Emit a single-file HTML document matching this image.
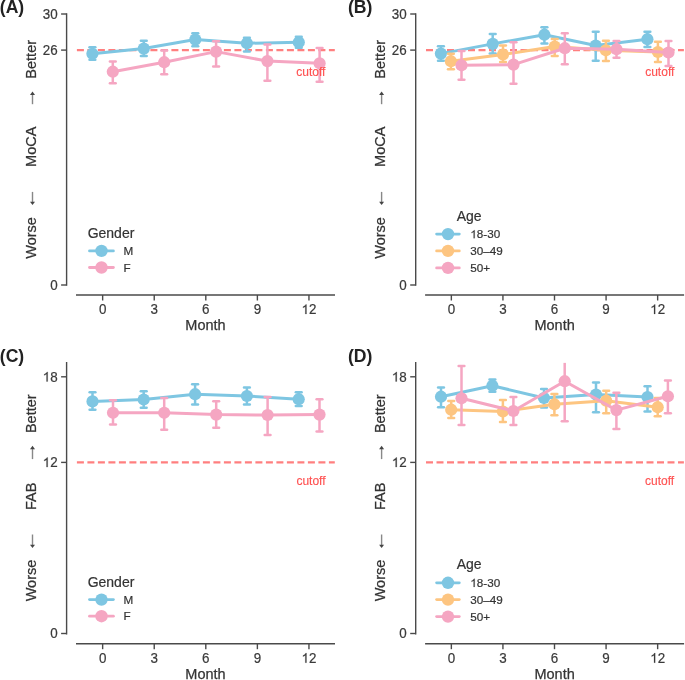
<!DOCTYPE html>
<html><head><meta charset="utf-8"><title>chart</title><style>
html,body{margin:0;padding:0;background:#fff;}
svg{display:block;will-change:transform;}
text{font-family:"Liberation Sans",sans-serif;}
.tk{font-size:13.4px;fill:#3a3a3a;stroke:#3a3a3a;stroke-width:0.2px;}
.ti{font-size:14.5px;fill:#333;stroke:#333;stroke-width:0.25px;}
.pl{font-size:17.6px;font-weight:bold;fill:#222;}
.cut{font-size:12px;fill:#FF5252;stroke:#FF5252;stroke-width:0.15px;}
.lt{font-size:14px;fill:#333;stroke:#333;stroke-width:0.2px;}
.ll{font-size:11.7px;fill:#333;stroke:#333;stroke-width:0.2px;}
</style></head><body>
<svg width="685" height="680" viewBox="0 0 685 680">
<rect width="685" height="680" fill="#fff"/>
<defs>
<clipPath id="cpa"><rect x="66" y="14" width="272" height="271"/></clipPath>
<clipPath id="cpb"><rect x="415.1" y="14" width="272" height="271"/></clipPath>
<clipPath id="cpc"><rect x="66" y="362.7" width="272" height="271"/></clipPath>
<clipPath id="cpd"><rect x="415.1" y="362.7" width="272" height="271"/></clipPath>
</defs>
<line x1="66.6" y1="14" x2="66.6" y2="285" stroke="#4a4a4a" stroke-width="1.4" stroke-linecap="square"/>
<line x1="61.1" y1="14" x2="66.6" y2="14" stroke="#4a4a4a" stroke-width="1.4"/>
<text transform="translate(57.6,18.7) scale(1,1.04)" class="tk" text-anchor="end">30</text>
<line x1="61.1" y1="50.1" x2="66.6" y2="50.1" stroke="#4a4a4a" stroke-width="1.4"/>
<text transform="translate(57.6,54.8) scale(1,1.04)" class="tk" text-anchor="end">26</text>
<line x1="61.1" y1="285" x2="66.6" y2="285" stroke="#4a4a4a" stroke-width="1.4"/>
<text transform="translate(57.6,289.7) scale(1,1.04)" class="tk" text-anchor="end">0</text>
<line x1="76" y1="295" x2="335" y2="295" stroke="#4a4a4a" stroke-width="1.4"/>
<line x1="102.65" y1="295" x2="102.65" y2="300.5" stroke="#4a4a4a" stroke-width="1.4"/>
<text transform="translate(102.65,314) scale(1,1.04)" class="tk" text-anchor="middle">0</text>
<line x1="154.23" y1="295" x2="154.23" y2="300.5" stroke="#4a4a4a" stroke-width="1.4"/>
<text transform="translate(154.23,314) scale(1,1.04)" class="tk" text-anchor="middle">3</text>
<line x1="205.8" y1="295" x2="205.8" y2="300.5" stroke="#4a4a4a" stroke-width="1.4"/>
<text transform="translate(205.8,314) scale(1,1.04)" class="tk" text-anchor="middle">6</text>
<line x1="257.38" y1="295" x2="257.38" y2="300.5" stroke="#4a4a4a" stroke-width="1.4"/>
<text transform="translate(257.38,314) scale(1,1.04)" class="tk" text-anchor="middle">9</text>
<line x1="308.95" y1="295" x2="308.95" y2="300.5" stroke="#4a4a4a" stroke-width="1.4"/>
<path transform="translate(301.5,314) scale(0.00654,-0.00651)" d="M763 0H583V1147Q518 1085 412.5 1023Q307 961 223 930V1104Q374 1175 487 1276Q600 1377 647 1472H763V0Z" fill="#3a3a3a" stroke="#3a3a3a" stroke-width="30.6"/>
<text transform="translate(308.95,314) scale(1,1.04)" class="tk">2</text>
<text transform="translate(205.5,330.2)" class="ti" text-anchor="middle">Month</text>
<text transform="translate(-0.2,13.2) scale(1,1.04)" class="pl">(A)</text>
<text transform="translate(36,59.3) rotate(-90)" class="ti" text-anchor="middle">Better</text>
<text transform="translate(36,146.8) rotate(-90)" class="ti" text-anchor="middle">MoCA</text>
<text transform="translate(36,237.9) rotate(-90)" class="ti" text-anchor="middle">Worse</text>
<line x1="32.5" y1="94.5" x2="32.5" y2="104.2" stroke="#888" stroke-width="1.4"/>
<path d="M32.5 91.5 L30 94.9 L35 94.9 Z" fill="#444"/>
<line x1="32.5" y1="191.9" x2="32.5" y2="202.1" stroke="#888" stroke-width="1.4"/>
<path d="M32.5 205.1 L30 201.7 L35 201.7 Z" fill="#444"/>
<line x1="76.9" y1="50.1" x2="334.8" y2="50.1" stroke="#FF7F7F" stroke-width="2.1" stroke-dasharray="7 3.5"/>
<g clip-path="url(#cpa)">
<path d="M92.4 53.8 L143.8 48.6 L195.3 39.6 L246.9 43.3 L298.8 42.3" fill="none" stroke="#7EC6E2" stroke-width="3" stroke-linejoin="round"/>
<line x1="92.4" y1="47.25" x2="92.4" y2="59.65" stroke="#7EC6E2" stroke-width="2.5"/>
<line x1="89.5" y1="47.25" x2="95.3" y2="47.25" stroke="#7EC6E2" stroke-width="2.5" stroke-linecap="round"/>
<line x1="89.5" y1="59.65" x2="95.3" y2="59.65" stroke="#7EC6E2" stroke-width="2.5" stroke-linecap="round"/>
<line x1="143.8" y1="40.85" x2="143.8" y2="56.05" stroke="#7EC6E2" stroke-width="2.5"/>
<line x1="140.9" y1="40.85" x2="146.7" y2="40.85" stroke="#7EC6E2" stroke-width="2.5" stroke-linecap="round"/>
<line x1="140.9" y1="56.05" x2="146.7" y2="56.05" stroke="#7EC6E2" stroke-width="2.5" stroke-linecap="round"/>
<line x1="195.3" y1="33.25" x2="195.3" y2="46.35" stroke="#7EC6E2" stroke-width="2.5"/>
<line x1="192.4" y1="33.25" x2="198.2" y2="33.25" stroke="#7EC6E2" stroke-width="2.5" stroke-linecap="round"/>
<line x1="192.4" y1="46.35" x2="198.2" y2="46.35" stroke="#7EC6E2" stroke-width="2.5" stroke-linecap="round"/>
<line x1="246.9" y1="37.75" x2="246.9" y2="51.45" stroke="#7EC6E2" stroke-width="2.5"/>
<line x1="244" y1="37.75" x2="249.8" y2="37.75" stroke="#7EC6E2" stroke-width="2.5" stroke-linecap="round"/>
<line x1="244" y1="51.45" x2="249.8" y2="51.45" stroke="#7EC6E2" stroke-width="2.5" stroke-linecap="round"/>
<line x1="298.8" y1="36.65" x2="298.8" y2="47.85" stroke="#7EC6E2" stroke-width="2.5"/>
<line x1="295.9" y1="36.65" x2="301.7" y2="36.65" stroke="#7EC6E2" stroke-width="2.5" stroke-linecap="round"/>
<line x1="295.9" y1="47.85" x2="301.7" y2="47.85" stroke="#7EC6E2" stroke-width="2.5" stroke-linecap="round"/>
<circle cx="92.4" cy="53.8" r="6.1" fill="#7EC6E2"/>
<circle cx="143.8" cy="48.6" r="6.1" fill="#7EC6E2"/>
<circle cx="195.3" cy="39.6" r="6.1" fill="#7EC6E2"/>
<circle cx="246.9" cy="43.3" r="6.1" fill="#7EC6E2"/>
<circle cx="298.8" cy="42.3" r="6.1" fill="#7EC6E2"/>
<path d="M112.8 71.7 L164.2 62.2 L216.1 51.6 L267.4 61.1 L319.6 63.3" fill="none" stroke="#F5A6C2" stroke-width="3" stroke-linejoin="round"/>
<line x1="112.8" y1="61.55" x2="112.8" y2="83.35" stroke="#F5A6C2" stroke-width="2.5"/>
<line x1="109.9" y1="61.55" x2="115.7" y2="61.55" stroke="#F5A6C2" stroke-width="2.5" stroke-linecap="round"/>
<line x1="109.9" y1="83.35" x2="115.7" y2="83.35" stroke="#F5A6C2" stroke-width="2.5" stroke-linecap="round"/>
<line x1="164.2" y1="50.55" x2="164.2" y2="74.25" stroke="#F5A6C2" stroke-width="2.5"/>
<line x1="161.3" y1="50.55" x2="167.1" y2="50.55" stroke="#F5A6C2" stroke-width="2.5" stroke-linecap="round"/>
<line x1="161.3" y1="74.25" x2="167.1" y2="74.25" stroke="#F5A6C2" stroke-width="2.5" stroke-linecap="round"/>
<line x1="216.1" y1="41.35" x2="216.1" y2="66.45" stroke="#F5A6C2" stroke-width="2.5"/>
<line x1="213.2" y1="41.35" x2="219" y2="41.35" stroke="#F5A6C2" stroke-width="2.5" stroke-linecap="round"/>
<line x1="213.2" y1="66.45" x2="219" y2="66.45" stroke="#F5A6C2" stroke-width="2.5" stroke-linecap="round"/>
<line x1="267.4" y1="44.45" x2="267.4" y2="80.65" stroke="#F5A6C2" stroke-width="2.5"/>
<line x1="264.5" y1="44.45" x2="270.3" y2="44.45" stroke="#F5A6C2" stroke-width="2.5" stroke-linecap="round"/>
<line x1="264.5" y1="80.65" x2="270.3" y2="80.65" stroke="#F5A6C2" stroke-width="2.5" stroke-linecap="round"/>
<line x1="319.6" y1="48.05" x2="319.6" y2="81.65" stroke="#F5A6C2" stroke-width="2.5"/>
<line x1="316.7" y1="48.05" x2="322.5" y2="48.05" stroke="#F5A6C2" stroke-width="2.5" stroke-linecap="round"/>
<line x1="316.7" y1="81.65" x2="322.5" y2="81.65" stroke="#F5A6C2" stroke-width="2.5" stroke-linecap="round"/>
<circle cx="112.8" cy="71.7" r="6.1" fill="#F5A6C2"/>
<circle cx="164.2" cy="62.2" r="6.1" fill="#F5A6C2"/>
<circle cx="216.1" cy="51.6" r="6.1" fill="#F5A6C2"/>
<circle cx="267.4" cy="61.1" r="6.1" fill="#F5A6C2"/>
<circle cx="319.6" cy="63.3" r="6.1" fill="#F5A6C2"/>
</g>
<text transform="translate(296.3,76.2)" class="cut">cutoff</text>
<text transform="translate(111,237.9)" class="lt" text-anchor="middle">Gender</text>
<line x1="89.5" y1="250.9" x2="113.4" y2="250.9" stroke="#7EC6E2" stroke-width="2.8" stroke-linecap="round"/>
<circle cx="101.5" cy="250.9" r="6.2" fill="#7EC6E2"/>
<text transform="translate(123.4,255)" class="ll">M</text>
<line x1="89.5" y1="267.5" x2="113.4" y2="267.5" stroke="#F5A6C2" stroke-width="2.8" stroke-linecap="round"/>
<circle cx="101.5" cy="267.5" r="6.2" fill="#F5A6C2"/>
<text transform="translate(123.4,271.6)" class="ll">F</text>
<line x1="415.7" y1="14" x2="415.7" y2="285" stroke="#4a4a4a" stroke-width="1.4" stroke-linecap="square"/>
<line x1="410.2" y1="14" x2="415.7" y2="14" stroke="#4a4a4a" stroke-width="1.4"/>
<text transform="translate(406.7,18.7) scale(1,1.04)" class="tk" text-anchor="end">30</text>
<line x1="410.2" y1="50.1" x2="415.7" y2="50.1" stroke="#4a4a4a" stroke-width="1.4"/>
<text transform="translate(406.7,54.8) scale(1,1.04)" class="tk" text-anchor="end">26</text>
<line x1="410.2" y1="285" x2="415.7" y2="285" stroke="#4a4a4a" stroke-width="1.4"/>
<text transform="translate(406.7,289.7) scale(1,1.04)" class="tk" text-anchor="end">0</text>
<line x1="425.1" y1="295" x2="684.1" y2="295" stroke="#4a4a4a" stroke-width="1.4"/>
<line x1="451.35" y1="295" x2="451.35" y2="300.5" stroke="#4a4a4a" stroke-width="1.4"/>
<text transform="translate(451.35,314) scale(1,1.04)" class="tk" text-anchor="middle">0</text>
<line x1="502.93" y1="295" x2="502.93" y2="300.5" stroke="#4a4a4a" stroke-width="1.4"/>
<text transform="translate(502.93,314) scale(1,1.04)" class="tk" text-anchor="middle">3</text>
<line x1="554.5" y1="295" x2="554.5" y2="300.5" stroke="#4a4a4a" stroke-width="1.4"/>
<text transform="translate(554.5,314) scale(1,1.04)" class="tk" text-anchor="middle">6</text>
<line x1="606.08" y1="295" x2="606.08" y2="300.5" stroke="#4a4a4a" stroke-width="1.4"/>
<text transform="translate(606.08,314) scale(1,1.04)" class="tk" text-anchor="middle">9</text>
<line x1="657.65" y1="295" x2="657.65" y2="300.5" stroke="#4a4a4a" stroke-width="1.4"/>
<path transform="translate(650.2,314) scale(0.00654,-0.00651)" d="M763 0H583V1147Q518 1085 412.5 1023Q307 961 223 930V1104Q374 1175 487 1276Q600 1377 647 1472H763V0Z" fill="#3a3a3a" stroke="#3a3a3a" stroke-width="30.6"/>
<text transform="translate(657.65,314) scale(1,1.04)" class="tk">2</text>
<text transform="translate(554.6,330.2)" class="ti" text-anchor="middle">Month</text>
<text transform="translate(348,13.2) scale(1,1.04)" class="pl">(B)</text>
<text transform="translate(385.1,59.3) rotate(-90)" class="ti" text-anchor="middle">Better</text>
<text transform="translate(385.1,146.8) rotate(-90)" class="ti" text-anchor="middle">MoCA</text>
<text transform="translate(385.1,237.9) rotate(-90)" class="ti" text-anchor="middle">Worse</text>
<line x1="381.6" y1="94.5" x2="381.6" y2="104.2" stroke="#888" stroke-width="1.4"/>
<path d="M381.6 91.5 L379.1 94.9 L384.1 94.9 Z" fill="#444"/>
<line x1="381.6" y1="191.9" x2="381.6" y2="202.1" stroke="#888" stroke-width="1.4"/>
<path d="M381.6 205.1 L379.1 201.7 L384.1 201.7 Z" fill="#444"/>
<line x1="426" y1="50.1" x2="683.9" y2="50.1" stroke="#FF7F7F" stroke-width="2.1" stroke-dasharray="7 3.5"/>
<g clip-path="url(#cpb)">
<path d="M440.9 53.6 L492.7 43.9 L544.4 34.7 L595.7 45.5 L647.4 39.2" fill="none" stroke="#7EC6E2" stroke-width="3" stroke-linejoin="round"/>
<line x1="440.9" y1="46.35" x2="440.9" y2="60.75" stroke="#7EC6E2" stroke-width="2.5"/>
<line x1="438" y1="46.35" x2="443.8" y2="46.35" stroke="#7EC6E2" stroke-width="2.5" stroke-linecap="round"/>
<line x1="438" y1="60.75" x2="443.8" y2="60.75" stroke="#7EC6E2" stroke-width="2.5" stroke-linecap="round"/>
<line x1="492.7" y1="33.95" x2="492.7" y2="53.55" stroke="#7EC6E2" stroke-width="2.5"/>
<line x1="489.8" y1="33.95" x2="495.6" y2="33.95" stroke="#7EC6E2" stroke-width="2.5" stroke-linecap="round"/>
<line x1="489.8" y1="53.55" x2="495.6" y2="53.55" stroke="#7EC6E2" stroke-width="2.5" stroke-linecap="round"/>
<line x1="544.4" y1="27.15" x2="544.4" y2="43.45" stroke="#7EC6E2" stroke-width="2.5"/>
<line x1="541.5" y1="27.15" x2="547.3" y2="27.15" stroke="#7EC6E2" stroke-width="2.5" stroke-linecap="round"/>
<line x1="541.5" y1="43.45" x2="547.3" y2="43.45" stroke="#7EC6E2" stroke-width="2.5" stroke-linecap="round"/>
<line x1="595.7" y1="31.65" x2="595.7" y2="60.65" stroke="#7EC6E2" stroke-width="2.5"/>
<line x1="592.8" y1="31.65" x2="598.6" y2="31.65" stroke="#7EC6E2" stroke-width="2.5" stroke-linecap="round"/>
<line x1="592.8" y1="60.65" x2="598.6" y2="60.65" stroke="#7EC6E2" stroke-width="2.5" stroke-linecap="round"/>
<line x1="647.4" y1="31.65" x2="647.4" y2="46.95" stroke="#7EC6E2" stroke-width="2.5"/>
<line x1="644.5" y1="31.65" x2="650.3" y2="31.65" stroke="#7EC6E2" stroke-width="2.5" stroke-linecap="round"/>
<line x1="644.5" y1="46.95" x2="650.3" y2="46.95" stroke="#7EC6E2" stroke-width="2.5" stroke-linecap="round"/>
<circle cx="440.9" cy="53.6" r="6.1" fill="#7EC6E2"/>
<circle cx="492.7" cy="43.9" r="6.1" fill="#7EC6E2"/>
<circle cx="544.4" cy="34.7" r="6.1" fill="#7EC6E2"/>
<circle cx="595.7" cy="45.5" r="6.1" fill="#7EC6E2"/>
<circle cx="647.4" cy="39.2" r="6.1" fill="#7EC6E2"/>
<path d="M450.9 61.2 L503 54.5 L554.7 46.5 L605.9 50.3 L657.9 52" fill="none" stroke="#FDC581" stroke-width="3" stroke-linejoin="round"/>
<line x1="450.9" y1="53.75" x2="450.9" y2="69.35" stroke="#FDC581" stroke-width="2.5"/>
<line x1="448" y1="53.75" x2="453.8" y2="53.75" stroke="#FDC581" stroke-width="2.5" stroke-linecap="round"/>
<line x1="448" y1="69.35" x2="453.8" y2="69.35" stroke="#FDC581" stroke-width="2.5" stroke-linecap="round"/>
<line x1="503" y1="45.55" x2="503" y2="61.95" stroke="#FDC581" stroke-width="2.5"/>
<line x1="500.1" y1="45.55" x2="505.9" y2="45.55" stroke="#FDC581" stroke-width="2.5" stroke-linecap="round"/>
<line x1="500.1" y1="61.95" x2="505.9" y2="61.95" stroke="#FDC581" stroke-width="2.5" stroke-linecap="round"/>
<line x1="554.7" y1="38.95" x2="554.7" y2="56.05" stroke="#FDC581" stroke-width="2.5"/>
<line x1="551.8" y1="38.95" x2="557.6" y2="38.95" stroke="#FDC581" stroke-width="2.5" stroke-linecap="round"/>
<line x1="551.8" y1="56.05" x2="557.6" y2="56.05" stroke="#FDC581" stroke-width="2.5" stroke-linecap="round"/>
<line x1="605.9" y1="40.75" x2="605.9" y2="60.95" stroke="#FDC581" stroke-width="2.5"/>
<line x1="603" y1="40.75" x2="608.8" y2="40.75" stroke="#FDC581" stroke-width="2.5" stroke-linecap="round"/>
<line x1="603" y1="60.95" x2="608.8" y2="60.95" stroke="#FDC581" stroke-width="2.5" stroke-linecap="round"/>
<line x1="657.9" y1="41.65" x2="657.9" y2="62.05" stroke="#FDC581" stroke-width="2.5"/>
<line x1="655" y1="41.65" x2="660.8" y2="41.65" stroke="#FDC581" stroke-width="2.5" stroke-linecap="round"/>
<line x1="655" y1="62.05" x2="660.8" y2="62.05" stroke="#FDC581" stroke-width="2.5" stroke-linecap="round"/>
<circle cx="450.9" cy="61.2" r="6.1" fill="#FDC581"/>
<circle cx="503" cy="54.5" r="6.1" fill="#FDC581"/>
<circle cx="554.7" cy="46.5" r="6.1" fill="#FDC581"/>
<circle cx="605.9" cy="50.3" r="6.1" fill="#FDC581"/>
<circle cx="657.9" cy="52" r="6.1" fill="#FDC581"/>
<path d="M461.5 65.3 L513.5 64.6 L564.8 48.2 L616.5 49.2 L668.5 52.5" fill="none" stroke="#F5A6C2" stroke-width="3" stroke-linejoin="round"/>
<line x1="461.5" y1="51.05" x2="461.5" y2="79.65" stroke="#F5A6C2" stroke-width="2.5"/>
<line x1="458.6" y1="51.05" x2="464.4" y2="51.05" stroke="#F5A6C2" stroke-width="2.5" stroke-linecap="round"/>
<line x1="458.6" y1="79.65" x2="464.4" y2="79.65" stroke="#F5A6C2" stroke-width="2.5" stroke-linecap="round"/>
<line x1="513.5" y1="42.35" x2="513.5" y2="83.85" stroke="#F5A6C2" stroke-width="2.5"/>
<line x1="510.6" y1="42.35" x2="516.4" y2="42.35" stroke="#F5A6C2" stroke-width="2.5" stroke-linecap="round"/>
<line x1="510.6" y1="83.85" x2="516.4" y2="83.85" stroke="#F5A6C2" stroke-width="2.5" stroke-linecap="round"/>
<line x1="564.8" y1="33.35" x2="564.8" y2="64.15" stroke="#F5A6C2" stroke-width="2.5"/>
<line x1="561.9" y1="33.35" x2="567.7" y2="33.35" stroke="#F5A6C2" stroke-width="2.5" stroke-linecap="round"/>
<line x1="561.9" y1="64.15" x2="567.7" y2="64.15" stroke="#F5A6C2" stroke-width="2.5" stroke-linecap="round"/>
<line x1="616.5" y1="41.05" x2="616.5" y2="57.85" stroke="#F5A6C2" stroke-width="2.5"/>
<line x1="613.6" y1="41.05" x2="619.4" y2="41.05" stroke="#F5A6C2" stroke-width="2.5" stroke-linecap="round"/>
<line x1="613.6" y1="57.85" x2="619.4" y2="57.85" stroke="#F5A6C2" stroke-width="2.5" stroke-linecap="round"/>
<line x1="668.5" y1="40.95" x2="668.5" y2="65.95" stroke="#F5A6C2" stroke-width="2.5"/>
<line x1="665.6" y1="40.95" x2="671.4" y2="40.95" stroke="#F5A6C2" stroke-width="2.5" stroke-linecap="round"/>
<line x1="665.6" y1="65.95" x2="671.4" y2="65.95" stroke="#F5A6C2" stroke-width="2.5" stroke-linecap="round"/>
<circle cx="461.5" cy="65.3" r="6.1" fill="#F5A6C2"/>
<circle cx="513.5" cy="64.6" r="6.1" fill="#F5A6C2"/>
<circle cx="564.8" cy="48.2" r="6.1" fill="#F5A6C2"/>
<circle cx="616.5" cy="49.2" r="6.1" fill="#F5A6C2"/>
<circle cx="668.5" cy="52.5" r="6.1" fill="#F5A6C2"/>
</g>
<text transform="translate(645.2,76.4)" class="cut">cutoff</text>
<text transform="translate(469.2,220.7)" class="lt" text-anchor="middle">Age</text>
<line x1="436.6" y1="234.1" x2="459.3" y2="234.1" stroke="#7EC6E2" stroke-width="2.8" stroke-linecap="round"/>
<circle cx="448" cy="234.1" r="6.2" fill="#7EC6E2"/>
<path transform="translate(470.3,238.2) scale(0.00571,-0.00547)" d="M763 0H583V1147Q518 1085 412.5 1023Q307 961 223 930V1104Q374 1175 487 1276Q600 1377 647 1472H763V0Z" fill="#333" stroke="#333" stroke-width="35.0"/>
<text transform="translate(476.81,238.2)" class="ll">8-30</text>
<line x1="436.6" y1="250.9" x2="459.3" y2="250.9" stroke="#FDC581" stroke-width="2.8" stroke-linecap="round"/>
<circle cx="448" cy="250.9" r="6.2" fill="#FDC581"/>
<text transform="translate(470.3,255)" class="ll">30–49</text>
<line x1="436.6" y1="267.9" x2="459.3" y2="267.9" stroke="#F5A6C2" stroke-width="2.8" stroke-linecap="round"/>
<circle cx="448" cy="267.9" r="6.2" fill="#F5A6C2"/>
<text transform="translate(470.3,272)" class="ll">50+</text>
<line x1="66.6" y1="362.7" x2="66.6" y2="633.7" stroke="#4a4a4a" stroke-width="1.4" stroke-linecap="square"/>
<line x1="61.1" y1="376.8" x2="66.6" y2="376.8" stroke="#4a4a4a" stroke-width="1.4"/>
<path transform="translate(42.7,381.5) scale(0.00654,-0.00651)" d="M763 0H583V1147Q518 1085 412.5 1023Q307 961 223 930V1104Q374 1175 487 1276Q600 1377 647 1472H763V0Z" fill="#3a3a3a" stroke="#3a3a3a" stroke-width="30.6"/>
<text transform="translate(50.15,381.5) scale(1,1.04)" class="tk">8</text>
<line x1="61.1" y1="462.4" x2="66.6" y2="462.4" stroke="#4a4a4a" stroke-width="1.4"/>
<path transform="translate(42.7,467.1) scale(0.00654,-0.00651)" d="M763 0H583V1147Q518 1085 412.5 1023Q307 961 223 930V1104Q374 1175 487 1276Q600 1377 647 1472H763V0Z" fill="#3a3a3a" stroke="#3a3a3a" stroke-width="30.6"/>
<text transform="translate(50.15,467.1) scale(1,1.04)" class="tk">2</text>
<line x1="61.1" y1="633.5" x2="66.6" y2="633.5" stroke="#4a4a4a" stroke-width="1.4"/>
<text transform="translate(57.6,638.2) scale(1,1.04)" class="tk" text-anchor="end">0</text>
<line x1="76" y1="643.7" x2="335" y2="643.7" stroke="#4a4a4a" stroke-width="1.4"/>
<line x1="102.65" y1="643.7" x2="102.65" y2="649.2" stroke="#4a4a4a" stroke-width="1.4"/>
<text transform="translate(102.65,662.7) scale(1,1.04)" class="tk" text-anchor="middle">0</text>
<line x1="154.23" y1="643.7" x2="154.23" y2="649.2" stroke="#4a4a4a" stroke-width="1.4"/>
<text transform="translate(154.23,662.7) scale(1,1.04)" class="tk" text-anchor="middle">3</text>
<line x1="205.8" y1="643.7" x2="205.8" y2="649.2" stroke="#4a4a4a" stroke-width="1.4"/>
<text transform="translate(205.8,662.7) scale(1,1.04)" class="tk" text-anchor="middle">6</text>
<line x1="257.38" y1="643.7" x2="257.38" y2="649.2" stroke="#4a4a4a" stroke-width="1.4"/>
<text transform="translate(257.38,662.7) scale(1,1.04)" class="tk" text-anchor="middle">9</text>
<line x1="308.95" y1="643.7" x2="308.95" y2="649.2" stroke="#4a4a4a" stroke-width="1.4"/>
<path transform="translate(301.5,662.7) scale(0.00654,-0.00651)" d="M763 0H583V1147Q518 1085 412.5 1023Q307 961 223 930V1104Q374 1175 487 1276Q600 1377 647 1472H763V0Z" fill="#3a3a3a" stroke="#3a3a3a" stroke-width="30.6"/>
<text transform="translate(308.95,662.7) scale(1,1.04)" class="tk">2</text>
<text transform="translate(205.5,678.9)" class="ti" text-anchor="middle">Month</text>
<text transform="translate(-0.2,361.9) scale(1,1.04)" class="pl">(C)</text>
<text transform="translate(36,413.75) rotate(-90)" class="ti" text-anchor="middle">Better</text>
<text transform="translate(36,496.35) rotate(-90)" class="ti" text-anchor="middle">FAB</text>
<text transform="translate(36,580.55) rotate(-90)" class="ti" text-anchor="middle">Worse</text>
<line x1="32.5" y1="448.8" x2="32.5" y2="459.1" stroke="#888" stroke-width="1.4"/>
<path d="M32.5 445.8 L30 449.2 L35 449.2 Z" fill="#444"/>
<line x1="32.5" y1="534.5" x2="32.5" y2="545.1" stroke="#888" stroke-width="1.4"/>
<path d="M32.5 548.1 L30 544.7 L35 544.7 Z" fill="#444"/>
<line x1="76.9" y1="462.4" x2="334.8" y2="462.4" stroke="#FF7F7F" stroke-width="2.1" stroke-dasharray="7 3.5"/>
<g clip-path="url(#cpc)">
<path d="M92.5 401.4 L143.7 399.5 L195.1 394.2 L246.9 396 L298.7 399.2" fill="none" stroke="#7EC6E2" stroke-width="3" stroke-linejoin="round"/>
<line x1="92.5" y1="392.35" x2="92.5" y2="409.65" stroke="#7EC6E2" stroke-width="2.5"/>
<line x1="89.6" y1="392.35" x2="95.4" y2="392.35" stroke="#7EC6E2" stroke-width="2.5" stroke-linecap="round"/>
<line x1="89.6" y1="409.65" x2="95.4" y2="409.65" stroke="#7EC6E2" stroke-width="2.5" stroke-linecap="round"/>
<line x1="143.7" y1="391.35" x2="143.7" y2="407.75" stroke="#7EC6E2" stroke-width="2.5"/>
<line x1="140.8" y1="391.35" x2="146.6" y2="391.35" stroke="#7EC6E2" stroke-width="2.5" stroke-linecap="round"/>
<line x1="140.8" y1="407.75" x2="146.6" y2="407.75" stroke="#7EC6E2" stroke-width="2.5" stroke-linecap="round"/>
<line x1="195.1" y1="384.35" x2="195.1" y2="404.55" stroke="#7EC6E2" stroke-width="2.5"/>
<line x1="192.2" y1="384.35" x2="198" y2="384.35" stroke="#7EC6E2" stroke-width="2.5" stroke-linecap="round"/>
<line x1="192.2" y1="404.55" x2="198" y2="404.55" stroke="#7EC6E2" stroke-width="2.5" stroke-linecap="round"/>
<line x1="246.9" y1="387.55" x2="246.9" y2="404.45" stroke="#7EC6E2" stroke-width="2.5"/>
<line x1="244" y1="387.55" x2="249.8" y2="387.55" stroke="#7EC6E2" stroke-width="2.5" stroke-linecap="round"/>
<line x1="244" y1="404.45" x2="249.8" y2="404.45" stroke="#7EC6E2" stroke-width="2.5" stroke-linecap="round"/>
<line x1="298.7" y1="392.25" x2="298.7" y2="406.05" stroke="#7EC6E2" stroke-width="2.5"/>
<line x1="295.8" y1="392.25" x2="301.6" y2="392.25" stroke="#7EC6E2" stroke-width="2.5" stroke-linecap="round"/>
<line x1="295.8" y1="406.05" x2="301.6" y2="406.05" stroke="#7EC6E2" stroke-width="2.5" stroke-linecap="round"/>
<circle cx="92.5" cy="401.4" r="6.1" fill="#7EC6E2"/>
<circle cx="143.7" cy="399.5" r="6.1" fill="#7EC6E2"/>
<circle cx="195.1" cy="394.2" r="6.1" fill="#7EC6E2"/>
<circle cx="246.9" cy="396" r="6.1" fill="#7EC6E2"/>
<circle cx="298.7" cy="399.2" r="6.1" fill="#7EC6E2"/>
<path d="M113 412.8 L164.2 412.8 L216.2 414.6 L267.6 415 L319.5 414.6" fill="none" stroke="#F5A6C2" stroke-width="3" stroke-linejoin="round"/>
<line x1="113" y1="400.25" x2="113" y2="424.45" stroke="#F5A6C2" stroke-width="2.5"/>
<line x1="110.1" y1="400.25" x2="115.9" y2="400.25" stroke="#F5A6C2" stroke-width="2.5" stroke-linecap="round"/>
<line x1="110.1" y1="424.45" x2="115.9" y2="424.45" stroke="#F5A6C2" stroke-width="2.5" stroke-linecap="round"/>
<line x1="164.2" y1="398.05" x2="164.2" y2="429.75" stroke="#F5A6C2" stroke-width="2.5"/>
<line x1="161.3" y1="398.05" x2="167.1" y2="398.05" stroke="#F5A6C2" stroke-width="2.5" stroke-linecap="round"/>
<line x1="161.3" y1="429.75" x2="167.1" y2="429.75" stroke="#F5A6C2" stroke-width="2.5" stroke-linecap="round"/>
<line x1="216.2" y1="401.35" x2="216.2" y2="427.65" stroke="#F5A6C2" stroke-width="2.5"/>
<line x1="213.3" y1="401.35" x2="219.1" y2="401.35" stroke="#F5A6C2" stroke-width="2.5" stroke-linecap="round"/>
<line x1="213.3" y1="427.65" x2="219.1" y2="427.65" stroke="#F5A6C2" stroke-width="2.5" stroke-linecap="round"/>
<line x1="267.6" y1="397.05" x2="267.6" y2="435.05" stroke="#F5A6C2" stroke-width="2.5"/>
<line x1="264.7" y1="397.05" x2="270.5" y2="397.05" stroke="#F5A6C2" stroke-width="2.5" stroke-linecap="round"/>
<line x1="264.7" y1="435.05" x2="270.5" y2="435.05" stroke="#F5A6C2" stroke-width="2.5" stroke-linecap="round"/>
<line x1="319.5" y1="399.25" x2="319.5" y2="431.45" stroke="#F5A6C2" stroke-width="2.5"/>
<line x1="316.6" y1="399.25" x2="322.4" y2="399.25" stroke="#F5A6C2" stroke-width="2.5" stroke-linecap="round"/>
<line x1="316.6" y1="431.45" x2="322.4" y2="431.45" stroke="#F5A6C2" stroke-width="2.5" stroke-linecap="round"/>
<circle cx="113" cy="412.8" r="6.1" fill="#F5A6C2"/>
<circle cx="164.2" cy="412.8" r="6.1" fill="#F5A6C2"/>
<circle cx="216.2" cy="414.6" r="6.1" fill="#F5A6C2"/>
<circle cx="267.6" cy="415" r="6.1" fill="#F5A6C2"/>
<circle cx="319.5" cy="414.6" r="6.1" fill="#F5A6C2"/>
</g>
<text transform="translate(296.4,484.9)" class="cut">cutoff</text>
<text transform="translate(111,586.6)" class="lt" text-anchor="middle">Gender</text>
<line x1="89.5" y1="599.6" x2="113.4" y2="599.6" stroke="#7EC6E2" stroke-width="2.8" stroke-linecap="round"/>
<circle cx="101.5" cy="599.6" r="6.2" fill="#7EC6E2"/>
<text transform="translate(123.4,603.7)" class="ll">M</text>
<line x1="89.5" y1="616.2" x2="113.4" y2="616.2" stroke="#F5A6C2" stroke-width="2.8" stroke-linecap="round"/>
<circle cx="101.5" cy="616.2" r="6.2" fill="#F5A6C2"/>
<text transform="translate(123.4,620.3)" class="ll">F</text>
<line x1="415.7" y1="362.7" x2="415.7" y2="633.7" stroke="#4a4a4a" stroke-width="1.4" stroke-linecap="square"/>
<line x1="410.2" y1="376.8" x2="415.7" y2="376.8" stroke="#4a4a4a" stroke-width="1.4"/>
<path transform="translate(391.8,381.5) scale(0.00654,-0.00651)" d="M763 0H583V1147Q518 1085 412.5 1023Q307 961 223 930V1104Q374 1175 487 1276Q600 1377 647 1472H763V0Z" fill="#3a3a3a" stroke="#3a3a3a" stroke-width="30.6"/>
<text transform="translate(399.25,381.5) scale(1,1.04)" class="tk">8</text>
<line x1="410.2" y1="462.4" x2="415.7" y2="462.4" stroke="#4a4a4a" stroke-width="1.4"/>
<path transform="translate(391.8,467.1) scale(0.00654,-0.00651)" d="M763 0H583V1147Q518 1085 412.5 1023Q307 961 223 930V1104Q374 1175 487 1276Q600 1377 647 1472H763V0Z" fill="#3a3a3a" stroke="#3a3a3a" stroke-width="30.6"/>
<text transform="translate(399.25,467.1) scale(1,1.04)" class="tk">2</text>
<line x1="410.2" y1="633.5" x2="415.7" y2="633.5" stroke="#4a4a4a" stroke-width="1.4"/>
<text transform="translate(406.7,638.2) scale(1,1.04)" class="tk" text-anchor="end">0</text>
<line x1="425.1" y1="643.7" x2="684.1" y2="643.7" stroke="#4a4a4a" stroke-width="1.4"/>
<line x1="451.35" y1="643.7" x2="451.35" y2="649.2" stroke="#4a4a4a" stroke-width="1.4"/>
<text transform="translate(451.35,662.7) scale(1,1.04)" class="tk" text-anchor="middle">0</text>
<line x1="502.93" y1="643.7" x2="502.93" y2="649.2" stroke="#4a4a4a" stroke-width="1.4"/>
<text transform="translate(502.93,662.7) scale(1,1.04)" class="tk" text-anchor="middle">3</text>
<line x1="554.5" y1="643.7" x2="554.5" y2="649.2" stroke="#4a4a4a" stroke-width="1.4"/>
<text transform="translate(554.5,662.7) scale(1,1.04)" class="tk" text-anchor="middle">6</text>
<line x1="606.08" y1="643.7" x2="606.08" y2="649.2" stroke="#4a4a4a" stroke-width="1.4"/>
<text transform="translate(606.08,662.7) scale(1,1.04)" class="tk" text-anchor="middle">9</text>
<line x1="657.65" y1="643.7" x2="657.65" y2="649.2" stroke="#4a4a4a" stroke-width="1.4"/>
<path transform="translate(650.2,662.7) scale(0.00654,-0.00651)" d="M763 0H583V1147Q518 1085 412.5 1023Q307 961 223 930V1104Q374 1175 487 1276Q600 1377 647 1472H763V0Z" fill="#3a3a3a" stroke="#3a3a3a" stroke-width="30.6"/>
<text transform="translate(657.65,662.7) scale(1,1.04)" class="tk">2</text>
<text transform="translate(554.6,678.9)" class="ti" text-anchor="middle">Month</text>
<text transform="translate(348,361.9) scale(1,1.04)" class="pl">(D)</text>
<text transform="translate(385.1,413.75) rotate(-90)" class="ti" text-anchor="middle">Better</text>
<text transform="translate(385.1,496.35) rotate(-90)" class="ti" text-anchor="middle">FAB</text>
<text transform="translate(385.1,580.55) rotate(-90)" class="ti" text-anchor="middle">Worse</text>
<line x1="381.6" y1="448.8" x2="381.6" y2="459.1" stroke="#888" stroke-width="1.4"/>
<path d="M381.6 445.8 L379.1 449.2 L384.1 449.2 Z" fill="#444"/>
<line x1="381.6" y1="534.5" x2="381.6" y2="545.1" stroke="#888" stroke-width="1.4"/>
<path d="M381.6 548.1 L379.1 544.7 L384.1 544.7 Z" fill="#444"/>
<line x1="426" y1="462.4" x2="683.9" y2="462.4" stroke="#FF7F7F" stroke-width="2.1" stroke-dasharray="7 3.5"/>
<g clip-path="url(#cpd)">
<path d="M441 396.7 L492.4 385.7 L544 398 L596 394.5 L647.5 397" fill="none" stroke="#7EC6E2" stroke-width="3" stroke-linejoin="round"/>
<line x1="441" y1="387.45" x2="441" y2="407.15" stroke="#7EC6E2" stroke-width="2.5"/>
<line x1="438.1" y1="387.45" x2="443.9" y2="387.45" stroke="#7EC6E2" stroke-width="2.5" stroke-linecap="round"/>
<line x1="438.1" y1="407.15" x2="443.9" y2="407.15" stroke="#7EC6E2" stroke-width="2.5" stroke-linecap="round"/>
<line x1="492.4" y1="379.55" x2="492.4" y2="391.75" stroke="#7EC6E2" stroke-width="2.5"/>
<line x1="489.5" y1="379.55" x2="495.3" y2="379.55" stroke="#7EC6E2" stroke-width="2.5" stroke-linecap="round"/>
<line x1="489.5" y1="391.75" x2="495.3" y2="391.75" stroke="#7EC6E2" stroke-width="2.5" stroke-linecap="round"/>
<line x1="544" y1="388.95" x2="544" y2="407.45" stroke="#7EC6E2" stroke-width="2.5"/>
<line x1="541.1" y1="388.95" x2="546.9" y2="388.95" stroke="#7EC6E2" stroke-width="2.5" stroke-linecap="round"/>
<line x1="541.1" y1="407.45" x2="546.9" y2="407.45" stroke="#7EC6E2" stroke-width="2.5" stroke-linecap="round"/>
<line x1="596" y1="382.45" x2="596" y2="412.25" stroke="#7EC6E2" stroke-width="2.5"/>
<line x1="593.1" y1="382.45" x2="598.9" y2="382.45" stroke="#7EC6E2" stroke-width="2.5" stroke-linecap="round"/>
<line x1="593.1" y1="412.25" x2="598.9" y2="412.25" stroke="#7EC6E2" stroke-width="2.5" stroke-linecap="round"/>
<line x1="647.5" y1="386.15" x2="647.5" y2="411.55" stroke="#7EC6E2" stroke-width="2.5"/>
<line x1="644.6" y1="386.15" x2="650.4" y2="386.15" stroke="#7EC6E2" stroke-width="2.5" stroke-linecap="round"/>
<line x1="644.6" y1="411.55" x2="650.4" y2="411.55" stroke="#7EC6E2" stroke-width="2.5" stroke-linecap="round"/>
<circle cx="441" cy="396.7" r="6.1" fill="#7EC6E2"/>
<circle cx="492.4" cy="385.7" r="6.1" fill="#7EC6E2"/>
<circle cx="544" cy="398" r="6.1" fill="#7EC6E2"/>
<circle cx="596" cy="394.5" r="6.1" fill="#7EC6E2"/>
<circle cx="647.5" cy="397" r="6.1" fill="#7EC6E2"/>
<path d="M451.2 409.7 L502.9 411.5 L554.4 404.3 L606.2 400.7 L657.7 407.2" fill="none" stroke="#FDC581" stroke-width="3" stroke-linejoin="round"/>
<line x1="451.2" y1="400.95" x2="451.2" y2="418.05" stroke="#FDC581" stroke-width="2.5"/>
<line x1="448.3" y1="400.95" x2="454.1" y2="400.95" stroke="#FDC581" stroke-width="2.5" stroke-linecap="round"/>
<line x1="448.3" y1="418.05" x2="454.1" y2="418.05" stroke="#FDC581" stroke-width="2.5" stroke-linecap="round"/>
<line x1="502.9" y1="399.95" x2="502.9" y2="421.95" stroke="#FDC581" stroke-width="2.5"/>
<line x1="500" y1="399.95" x2="505.8" y2="399.95" stroke="#FDC581" stroke-width="2.5" stroke-linecap="round"/>
<line x1="500" y1="421.95" x2="505.8" y2="421.95" stroke="#FDC581" stroke-width="2.5" stroke-linecap="round"/>
<line x1="554.4" y1="393.95" x2="554.4" y2="415.35" stroke="#FDC581" stroke-width="2.5"/>
<line x1="551.5" y1="393.95" x2="557.3" y2="393.95" stroke="#FDC581" stroke-width="2.5" stroke-linecap="round"/>
<line x1="551.5" y1="415.35" x2="557.3" y2="415.35" stroke="#FDC581" stroke-width="2.5" stroke-linecap="round"/>
<line x1="606.2" y1="390.75" x2="606.2" y2="413.35" stroke="#FDC581" stroke-width="2.5"/>
<line x1="603.3" y1="390.75" x2="609.1" y2="390.75" stroke="#FDC581" stroke-width="2.5" stroke-linecap="round"/>
<line x1="603.3" y1="413.35" x2="609.1" y2="413.35" stroke="#FDC581" stroke-width="2.5" stroke-linecap="round"/>
<line x1="657.7" y1="398.05" x2="657.7" y2="416.35" stroke="#FDC581" stroke-width="2.5"/>
<line x1="654.8" y1="398.05" x2="660.6" y2="398.05" stroke="#FDC581" stroke-width="2.5" stroke-linecap="round"/>
<line x1="654.8" y1="416.35" x2="660.6" y2="416.35" stroke="#FDC581" stroke-width="2.5" stroke-linecap="round"/>
<circle cx="451.2" cy="409.7" r="6.1" fill="#FDC581"/>
<circle cx="502.9" cy="411.5" r="6.1" fill="#FDC581"/>
<circle cx="554.4" cy="404.3" r="6.1" fill="#FDC581"/>
<circle cx="606.2" cy="400.7" r="6.1" fill="#FDC581"/>
<circle cx="657.7" cy="407.2" r="6.1" fill="#FDC581"/>
<path d="M461.5 398.3 L513.4 411 L564.7 381.2 L616.4 410.1 L667.9 396.3" fill="none" stroke="#F5A6C2" stroke-width="3" stroke-linejoin="round"/>
<line x1="461.5" y1="365.95" x2="461.5" y2="425.05" stroke="#F5A6C2" stroke-width="2.5"/>
<line x1="458.6" y1="365.95" x2="464.4" y2="365.95" stroke="#F5A6C2" stroke-width="2.5" stroke-linecap="round"/>
<line x1="458.6" y1="425.05" x2="464.4" y2="425.05" stroke="#F5A6C2" stroke-width="2.5" stroke-linecap="round"/>
<line x1="513.4" y1="397.05" x2="513.4" y2="425.05" stroke="#F5A6C2" stroke-width="2.5"/>
<line x1="510.5" y1="397.05" x2="516.3" y2="397.05" stroke="#F5A6C2" stroke-width="2.5" stroke-linecap="round"/>
<line x1="510.5" y1="425.05" x2="516.3" y2="425.05" stroke="#F5A6C2" stroke-width="2.5" stroke-linecap="round"/>
<line x1="564.7" y1="362.45" x2="564.7" y2="421.25" stroke="#F5A6C2" stroke-width="2.5"/>
<line x1="561.8" y1="421.25" x2="567.6" y2="421.25" stroke="#F5A6C2" stroke-width="2.5" stroke-linecap="round"/>
<line x1="616.4" y1="392.65" x2="616.4" y2="429.05" stroke="#F5A6C2" stroke-width="2.5"/>
<line x1="613.5" y1="392.65" x2="619.3" y2="392.65" stroke="#F5A6C2" stroke-width="2.5" stroke-linecap="round"/>
<line x1="613.5" y1="429.05" x2="619.3" y2="429.05" stroke="#F5A6C2" stroke-width="2.5" stroke-linecap="round"/>
<line x1="667.9" y1="380.55" x2="667.9" y2="413.35" stroke="#F5A6C2" stroke-width="2.5"/>
<line x1="665" y1="380.55" x2="670.8" y2="380.55" stroke="#F5A6C2" stroke-width="2.5" stroke-linecap="round"/>
<line x1="665" y1="413.35" x2="670.8" y2="413.35" stroke="#F5A6C2" stroke-width="2.5" stroke-linecap="round"/>
<circle cx="461.5" cy="398.3" r="6.1" fill="#F5A6C2"/>
<circle cx="513.4" cy="411" r="6.1" fill="#F5A6C2"/>
<circle cx="564.7" cy="381.2" r="6.1" fill="#F5A6C2"/>
<circle cx="616.4" cy="410.1" r="6.1" fill="#F5A6C2"/>
<circle cx="667.9" cy="396.3" r="6.1" fill="#F5A6C2"/>
</g>
<text transform="translate(645,485.1)" class="cut">cutoff</text>
<text transform="translate(469.2,569.4)" class="lt" text-anchor="middle">Age</text>
<line x1="436.6" y1="582.8" x2="459.3" y2="582.8" stroke="#7EC6E2" stroke-width="2.8" stroke-linecap="round"/>
<circle cx="448" cy="582.8" r="6.2" fill="#7EC6E2"/>
<path transform="translate(470.3,586.9) scale(0.00571,-0.00547)" d="M763 0H583V1147Q518 1085 412.5 1023Q307 961 223 930V1104Q374 1175 487 1276Q600 1377 647 1472H763V0Z" fill="#333" stroke="#333" stroke-width="35.0"/>
<text transform="translate(476.81,586.9)" class="ll">8-30</text>
<line x1="436.6" y1="599.6" x2="459.3" y2="599.6" stroke="#FDC581" stroke-width="2.8" stroke-linecap="round"/>
<circle cx="448" cy="599.6" r="6.2" fill="#FDC581"/>
<text transform="translate(470.3,603.7)" class="ll">30–49</text>
<line x1="436.6" y1="616.6" x2="459.3" y2="616.6" stroke="#F5A6C2" stroke-width="2.8" stroke-linecap="round"/>
<circle cx="448" cy="616.6" r="6.2" fill="#F5A6C2"/>
<text transform="translate(470.3,620.7)" class="ll">50+</text>
</svg>
</body></html>
